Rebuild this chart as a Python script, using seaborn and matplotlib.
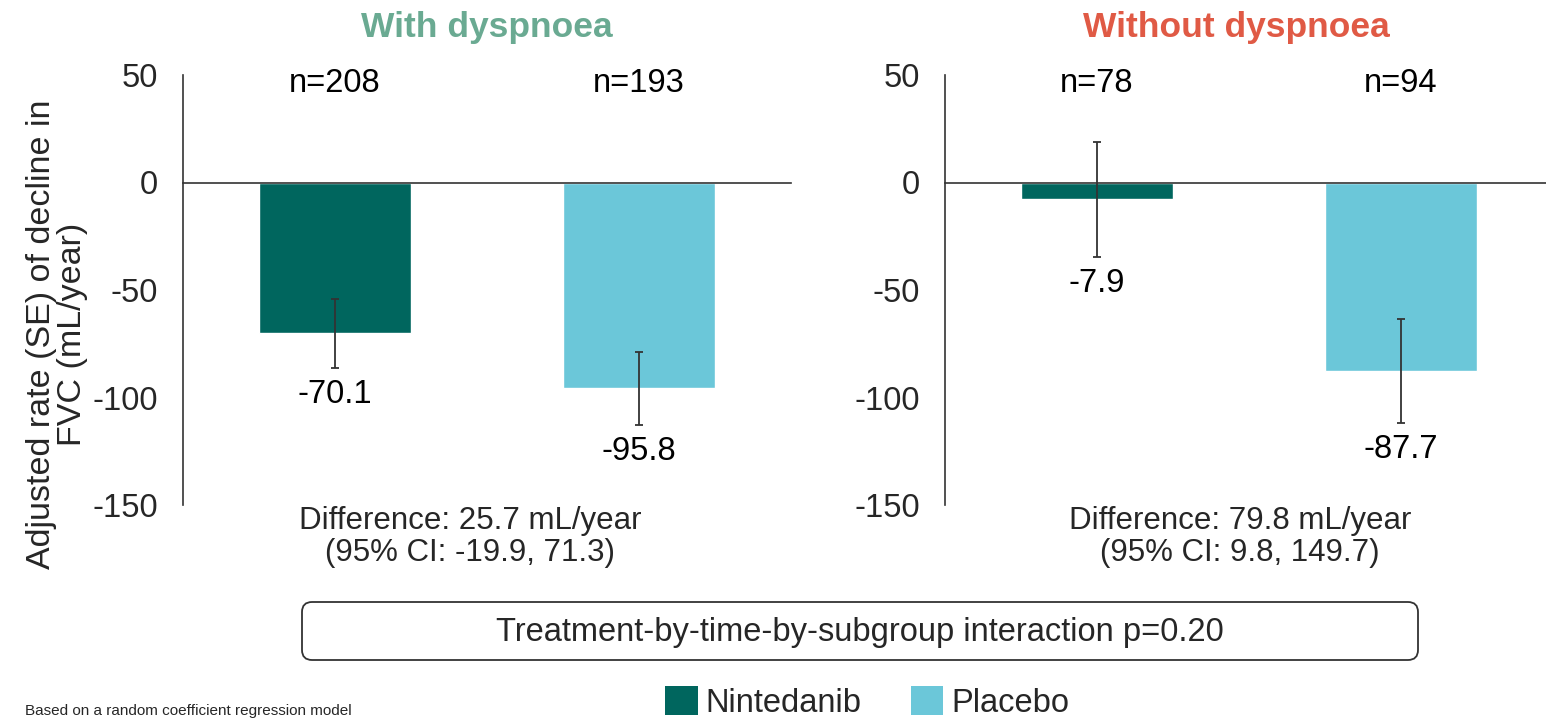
import matplotlib
matplotlib.use("Agg")
import matplotlib.pyplot as plt
from matplotlib.patches import FancyBboxPatch, Patch
import seaborn as sns
import pandas as pd

sns.set_theme(style="white")
plt.rcParams['font.family'] = ['Liberation Sans', 'DejaVu Sans']

treatments = ["Nintedanib", "Placebo"]
with_values = [-70.1, -95.8]
with_se = [16.0, 16.8]
with_n = ["n=208", "n=193"]
without_values = [-7.9, -87.7]
without_se = [26.7, 24.0]
without_n = ["n=78", "n=94"]
titles = ["With dyspnoea", "Without dyspnoea"]
diff_texts = ["Difference: 25.7 mL/year\n(95% CI: -19.9, 71.3)",
              "Difference: 79.8 mL/year\n(95% CI: 9.8, 149.7)"]
yticks = [50, 0, -50, -100, -150]
ylabel = "Adjusted rate (SE) of decline in\nFVC (mL/year)"
interaction = "Treatment-by-time-by-subgroup interaction p=0.20"
footnote = "Based on a random coefficient regression model"

colors = {"Nintedanib": "#00665e", "Placebo": "#6bc7d9"}
title_colors = ["#6aaa92", "#e05a45"]
dark = "#333333"
FS = 23.5
TFS = 25.5

fig = plt.figure(figsize=(15.46, 7.2), dpi=100)
W, H = 1546, 720
ax_w = 608 / W
ax_b = 1 - 505 / H
ax_h = 430 / H
axes = [fig.add_axes([183 / W, ax_b, ax_w, ax_h]),
        fig.add_axes([945 / W, ax_b, ax_w, ax_h])]

groups = [(with_values, with_se, with_n), (without_values, without_se, without_n)]
for ax, (vals, ses, ns) in zip(axes, groups):
    df = pd.DataFrame({"treatment": treatments, "value": vals})
    sns.barplot(data=df, x="treatment", y="value", hue="treatment",
                palette=colors, width=0.5, ax=ax, legend=False, saturation=1)
    ax.errorbar(range(len(vals)), vals, yerr=ses, fmt="none",
                ecolor=dark, elinewidth=1.3, capsize=3, capthick=1.3)
    for i, (v, s, n) in enumerate(zip(vals, ses, ns)):
        ax.annotate(f"{v:.1f}", (i, v - s), xytext=(0, -8), textcoords="offset points",
                    ha="center", va="top", fontsize=FS, color="black")
        ax.text(i, 46.0, n, ha="center", va="center", fontsize=FS, color="black")
    ax.set_ylim(-150, 50)
    ax.set_xlim(-0.5, 1.5)
    ax.set_yticks(yticks)
    ax.set_yticklabels([str(t) for t in yticks], fontsize=FS)
    ax.set_xticks([0.5])
    ax.set_xticklabels([""])
    ax.set_xlabel("")
    ax.set_ylabel("")
    for sp in ["top", "right"]:
        ax.spines[sp].set_visible(False)
    ax.spines["bottom"].set_position(("data", 0))
    ax.spines["bottom"].set_color(dark)
    ax.spines["left"].set_color(dark)
    ax.spines["bottom"].set_linewidth(1.2)
    ax.spines["left"].set_linewidth(1.2)
    ax.spines["bottom"].set_zorder(5)
    ax.tick_params(axis="y", direction="out", length=5, width=1.2, color=dark, pad=13)
    ax.tick_params(axis="x", direction="out", length=5, width=1.2, color=dark)
    ax.set_facecolor("none")

# Titles
fig.text(487 / W, 1 - 27 / H, titles[0], ha="center", va="center", fontsize=TFS,
         fontweight="bold", color=title_colors[0])
fig.text(1236 / W, 1 - 27 / H, titles[1], ha="center", va="center", fontsize=TFS,
         fontweight="bold", color=title_colors[1])

# Difference texts
fig.text(470 / W, 1 - 537 / H, diff_texts[0], ha="center", va="center", fontsize=22.5,
         linespacing=1.07, multialignment="center")
fig.text(1240 / W, 1 - 537 / H, diff_texts[1], ha="center", va="center", fontsize=22.5,
         linespacing=1.07, multialignment="center")

# Y label
fig.text(57 / W, 1 - 334 / H, ylabel, rotation=90, ha="center", va="center",
         fontsize=24.5, multialignment="center", linespacing=1.0)

# Interaction box
box = FancyBboxPatch((3.02 + 0.1, 0.60 + 0.1), 11.16 - 0.2, 0.58 - 0.2,
                     boxstyle="round,pad=0.1", transform=fig.dpi_scale_trans,
                     facecolor="white", edgecolor=dark, linewidth=1.3)
fig.patches.append(box)
fig.text(860 / W, 1 - 632 / H, interaction, ha="center", va="center", fontsize=FS)

# Legend
handles = [Patch(facecolor=colors[t], edgecolor="none", label=t) for t in treatments]
fig.legend(handles=handles, loc="upper left", bbox_to_anchor=(665 / W, 1 - 686 / H),
           ncol=2, frameon=False, fontsize=FS, handlelength=1.0, handleheight=1.0,
           handletextpad=0.25, columnspacing=1.5, borderaxespad=0, borderpad=0)

# Footnote
fig.text(25 / W, 2 / H, footnote, ha="left", va="bottom", fontsize=11)

fig.savefig("out.png", dpi=100)
